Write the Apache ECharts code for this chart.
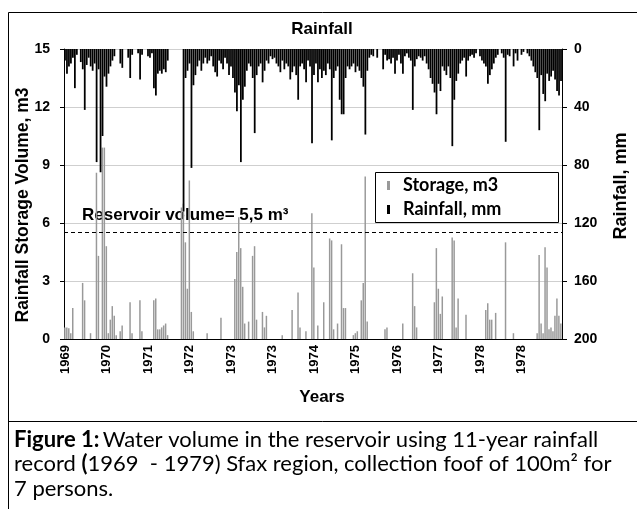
<!DOCTYPE html>
<html><head><meta charset="utf-8">
<script src="https://cdn.jsdelivr.net/npm/echarts@6/dist/echarts.min.js"></script>
<style>html,body{margin:0;padding:0;background:#fff}#c{width:637px;height:509px}</style>
</head><body><div id="c"></div>
<script>
// Tick labels of the date axis (12 intervals)
var tickLabels = ['1969','1970','1971','1972','1973','1973','1974','1975','1976','1977','1978','1978'];
var perTick = 21;
// Storage volume, m3 (one bar per period)
var storage = [
 0.6,0.6,0.55,0.3,1.6,0,0,0,0,2.9,2.0,0,
 0,0.3,0,0,8.6,4.3,0,9.9,9.9,4.8,0.3,1.0,
 1.7,1.2,0.2,0,0.4,0.7,0,0,0,1.9,0.3,0,
 0,0,2.0,0.4,0,0,0,0,0,2.0,2.1,0.5,
 0.5,0.6,0.7,0.8,0.2,0,0,0,0,0,0,6.8,
 7.0,5.0,2.6,8.2,1.4,0.4,0,0,0,0,0,0,
 0.3,0,0,0,0,0,0,1.1,0,0,0,0,
 0,0,3.1,4.5,6.3,4.7,2.7,0.8,0,0.9,0,4.3,
 4.8,1.0,0,0,1.4,0.6,1.2,0,0,0,0,0,
 0,0,0.2,0,0,0,0,1.5,0,0,2.4,0.6,
 0,0,0.4,0,0,6.5,3.7,0,0.7,0,0,1.9,
 0,0,5.2,5.1,0.5,0,0.8,0,4.9,1.6,1.6,0,
 0,0,0.2,0.3,0.4,0,2.0,2.9,8.4,0.9,0,0,
 0,0,0,0,0,0,0.5,0.6,0,0,0,0,
 0,0,0,0.8,0,0,0,0,3.4,1.7,0.6,0,
 0,0,0,0,0,0,0,1.9,4.7,2.6,1.3,2.2,
 0,0,0,0,5.25,5.1,0.6,2.1,0,0,0,1.25,
 0,0,0,0,0,0,0,0,0,1.5,1.85,1.0,
 1.0,0,1.35,0,0,0,0,5.0,0,0,0,0.3,
 0,0,0,0,0,0,0,0,0,0,0,0.3,
 4.35,0.8,0.3,4.75,3.7,0.5,0.6,0.4,1.2,2.1,1.2,0.8
];
// Rainfall, mm (one bar per period)
var rainfall = [
 8,17,12,10,6,27,4,0,9,14,42,11,
 6,12,15,10,78,14,85,60,19,26,17,12,
 8,5,0,0,10,13,0,0,6,20,4,0,
 0,3,21,4,0,0,5,6,3,27,32,17,
 15,17,14,16,8,0,0,0,0,0,0,0,
 112,20,15,10,82,25,18,12,8,15,10,6,
 10,8,5,12,16,19,8,10,14,6,10,18,
 12,20,30,43,25,78,35,26,15,10,12,20,
 58,18,12,10,23,15,8,10,5,7,6,10,
 12,16,8,14,10,12,21,16,12,18,35,12,
 10,14,23,8,12,65,18,10,23,14,20,15,
 18,10,14,63,20,15,12,35,45,45,20,12,
 14,12,10,16,12,15,20,26,59,15,6,4,
 5,0,6,0,0,14,4,8,7,10,6,17,
 8,4,10,17,5,3,6,8,42,12,7,5,
 6,8,5,10,14,20,24,30,45,24,29,12,
 15,18,12,20,67,35,22,17,10,8,6,19,
 8,5,4,6,3,0,5,8,10,12,24,18,
 14,10,6,4,0,3,6,64,4,5,0,12,
 3,8,0,4,2,0,3,5,8,12,16,20,
 56,18,31,36,17,22,19,15,21,29,32,22
];
var reservoirVolume = 5.5;
var categories = [];
for (var i = 0; i < storage.length; i++) categories.push(String(i + 1));

var chart = echarts.init(document.getElementById('c'), null, {renderer: 'canvas'});
var F = 'Liberation Sans, Arial, sans-serif';
var CAP = 'Lato, sans-serif';
chart.setOption({
  animation: false,
  backgroundColor: '#fff',
  grid: {left: 64, right: 75, top: 49, bottom: 170},
  xAxis: {
    type: 'category', data: categories, boundaryGap: true,
    axisLine: {lineStyle: {color: '#000', width: 1}},
    axisTick: {interval: perTick - 1, length: 4, lineStyle: {color: '#000'}},
    axisLabel: {interval: perTick - 1, rotate: 90, margin: 6, color: '#000',
      fontFamily: F, fontWeight: 'bold', fontSize: 13,
      formatter: function (v, idx) { return tickLabels[Math.round(idx / perTick)] || ''; }},
    splitLine: {show: false}
  },
  yAxis: [{
    type: 'value', min: 0, max: 15, interval: 3, position: 'left',
    axisLine: {show: true, lineStyle: {color: '#000'}},
    axisTick: {show: true, length: 4, lineStyle: {color: '#000'}},
    axisLabel: {margin: 14, color: '#000', fontFamily: F, fontWeight: 'bold', fontSize: 14},
    splitLine: {show: true, lineStyle: {color: '#cfcfcf', width: 1}}
  }, {
    type: 'value', min: 0, max: 200, interval: 40, position: 'right', inverse: true,
    axisLine: {show: true, lineStyle: {color: '#000'}},
    axisTick: {show: true, length: 5, lineStyle: {color: '#000'}},
    axisLabel: {margin: 12, color: '#000', fontFamily: F, fontWeight: 'bold', fontSize: 14},
    splitLine: {show: false}
  }],
  legend: {show: false},
  series: [{
    name: 'Storage, m3', type: 'bar', yAxisIndex: 0, data: storage,
    itemStyle: {color: '#999999'}, barWidth: '75%', barGap: '-100%',
    markLine: {silent: true, symbol: ['none', 'none'], label: {show: false},
      lineStyle: {color: '#000', type: [4, 3], width: 1},
      data: [{yAxis: reservoirVolume}]}
  }, {
    name: 'Rainfall, mm', type: 'bar', yAxisIndex: 1, data: rainfall,
    itemStyle: {color: '#000'}, barWidth: '90%', barGap: '-100%'
  }],
  graphic: [
    {type: 'line', shape: {x1: 8.5, y1: 12.5, x2: 637, y2: 12.5}, style: {stroke: '#000', lineWidth: 1}},
    {type: 'line', shape: {x1: 8.5, y1: 12.5, x2: 8.5, y2: 509}, style: {stroke: '#000', lineWidth: 1}},
    {type: 'line', shape: {x1: 8.5, y1: 421.5, x2: 637, y2: 421.5}, style: {stroke: '#000', lineWidth: 1}},
    {type: 'text', x: 322, y: 21, style: {text: 'Rainfall', font: 'bold 17px ' + F, fill: '#000', textAlign: 'center', textVerticalAlign: 'top'}},
    {type: 'text', x: 322, y: 389, style: {text: 'Years', font: 'bold 17px ' + F, fill: '#000', textAlign: 'center', textVerticalAlign: 'top'}},
    {type: 'text', x: 23, y: 205, rotation: Math.PI / 2, style: {text: 'Rainfall Storage Volume, m3', font: 'bold 17.5px ' + F, fill: '#000', textAlign: 'center', textVerticalAlign: 'middle'}},
    {type: 'text', x: 621, y: 186, rotation: Math.PI / 2, style: {text: 'Rainfall, mm', font: 'bold 18px ' + F, fill: '#000', textAlign: 'center', textVerticalAlign: 'middle'}},
    {type: 'text', x: 82, y: 207, style: {text: 'Reservoir volume= 5,5 m³', font: 'bold 17px ' + F, fill: '#000', textAlign: 'left', textVerticalAlign: 'top'}},
    {type: 'rect', shape: {x: 375.5, y: 172.5, width: 183, height: 50}, style: {fill: '#fff', stroke: '#000', lineWidth: 1}, z: 100},
    {type: 'rect', shape: {x: 387, y: 181, width: 3, height: 9}, style: {fill: '#999999'}, z: 101},
    {type: 'rect', shape: {x: 387, y: 205, width: 3, height: 9}, style: {fill: '#000'}, z: 101},
    {type: 'text', x: 403, y: 185, style: {text: 'Storage, m3', font: 'bold 18px ' + CAP, fill: '#000', textVerticalAlign: 'middle'}, z: 101},
    {type: 'text', x: 403, y: 209, style: {text: 'Rainfall, mm', font: 'bold 18px ' + CAP, fill: '#000', textVerticalAlign: 'middle'}, z: 101},
    {type: 'text', x: 14, y: 429, style: {rich: {b: {font: 'bold 22px ' + CAP, fill: '#000'}, n: {font: '22px ' + CAP, fill: '#000'}}, text: '{b|Figure 1:} {n|Water volume in the reservoir using 11-year rainfall}', fill: '#000', textVerticalAlign: 'top'}},
    {type: 'text', x: 14, y: 453, style: {rich: {b: {font: 'bold 22px ' + CAP, fill: '#000'}, n: {font: '22px ' + CAP, fill: '#000'}}, text: '{n|record }{b|(}{n|1969  - 1979) Sfax region, collection foof of 100m² for}', textVerticalAlign: 'top'}},
    {type: 'text', x: 14, y: 478, style: {text: '7 persons.', font: '22px ' + CAP, fill: '#000', textVerticalAlign: 'top'}}
  ]
});
</script></body></html>
